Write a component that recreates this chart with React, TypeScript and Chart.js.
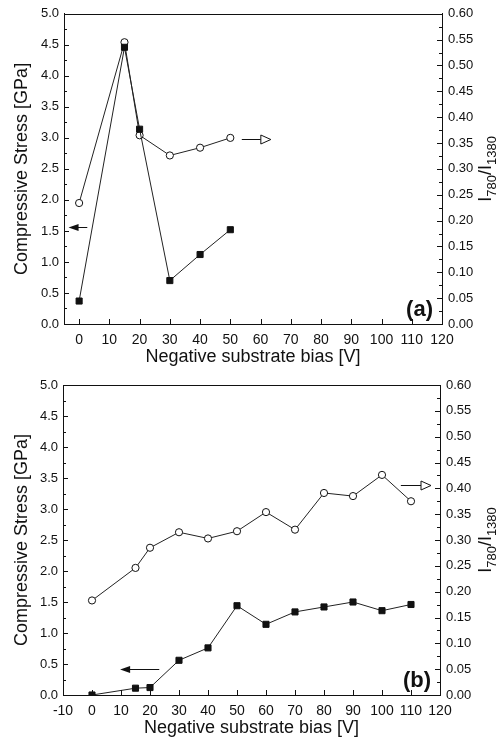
import React, { useEffect, useRef } from "react";
import { Chart, registerables } from "chart.js";

Chart.register(...registerables);

// ---------- data ----------
const biasA = [0, 15, 20, 30, 40, 50];
const stressA = [0.37, 4.46, 3.14, 0.7, 1.12, 1.52];
const ratioA = [0.234, 0.545, 0.365, 0.326, 0.341, 0.36];

const biasB = [0, 15, 20, 30, 40, 50, 60, 70, 80, 90, 100, 110];
const stressB = [0.0, 0.11, 0.12, 0.56, 0.76, 1.44, 1.14, 1.34, 1.42, 1.5, 1.36, 1.46];
const ratioB = [0.183, 0.246, 0.285, 0.315, 0.303, 0.317, 0.354, 0.32, 0.391, 0.385, 0.426, 0.375];

const xTicksA = [0, 10, 20, 30, 40, 50, 60, 70, 80, 90, 100, 110, 120];
const xTicksB = [-10, 0, 10, 20, 30, 40, 50, 60, 70, 80, 90, 100, 110, 120];
const stressTicks = [0, 0.5, 1, 1.5, 2, 2.5, 3, 3.5, 4, 4.5, 5];
const ratioTicks = [0, 0.05, 0.1, 0.15, 0.2, 0.25, 0.3, 0.35, 0.4, 0.45, 0.5, 0.55, 0.6];

const xLabel = "Negative substrate bias [V]";
const stressLabel = "Compressive Stress [GPa]";
const ratioLabelParts = [
  { text: "I", sub: false },
  { text: "780", sub: true },
  { text: "/I", sub: false },
  { text: "1380", sub: true },
];

// arrows: axis, start x, end x (head), value on that axis
const arrowsA = [
  { axis: "y", from: 2.7, to: -3.5, at: 1.56, head: "filled" },
  { axis: "y2", from: 53.8, to: 63.4, at: 0.358, head: "open" },
];
const arrowsB = [
  { axis: "y", from: 23.2, to: 9.7, at: 0.42, head: "filled" },
  { axis: "y2", from: 106.5, to: 116.9, at: 0.406, head: "open" },
];

const FONT = "'Liberation Sans Narrow', 'Liberation Sans', Arial, sans-serif";
const FONT_WIDE = "'Liberation Sans', Arial, sans-serif";
const INK = "#111";

type Panel = {
  key: string;
  x: number[];
  stress: number[];
  ratio: number[];
  xMin: number;
  xTicks: number[];
  arrows: typeof arrowsA;
  label: string;
  height: number;
  padTop: number;
  leftW: number;
  rightW: number;
};

const panels: Panel[] = [
  { key: "a", x: biasA, stress: stressA, ratio: ratioA, xMin: -5, xTicks: xTicksA, arrows: arrowsA, label: "(a)", height: 370, padTop: 12, leftW: 64, rightW: 60 },
  { key: "b", x: biasB, stress: stressB, ratio: ratioB, xMin: -10, xTicks: xTicksB, arrows: arrowsB, label: "(b)", height: 371, padTop: 15, leftW: 63, rightW: 62 },
];

function decorPlugin(p: Panel) {
  return {
    id: "decor_" + p.key,
    afterDraw(chart: any) {
      const { ctx, chartArea: ca, scales } = chart;
      ctx.save();
      ctx.strokeStyle = INK;
      ctx.lineWidth = 1;
      const line = (x1: number, y1: number, x2: number, y2: number) => {
        ctx.beginPath();
        ctx.moveTo(x1, y1);
        ctx.lineTo(x2, y2);
        ctx.stroke();
      };
      // top frame
      line(ca.left, Math.round(ca.top) + 0.5, ca.right, Math.round(ca.top) + 0.5);

      // left ticks
      const yPix = (s: any, v: number) => Math.round(s.getPixelForValue(v)) + 0.5;
      stressTicks.forEach((v, i) => {
        line(ca.left, yPix(scales.y, v), ca.left + 5, yPix(scales.y, v));
        if (i < stressTicks.length - 1) {
          const m = (v + stressTicks[i + 1]) / 2;
          line(ca.left, yPix(scales.y, m), ca.left + 3, yPix(scales.y, m));
        }
      });
      ratioTicks.forEach((v, i) => {
        line(ca.right, yPix(scales.y2, v), ca.right - 5, yPix(scales.y2, v));
        if (i < ratioTicks.length - 1) {
          const m = (v + ratioTicks[i + 1]) / 2;
          line(ca.right, yPix(scales.y2, m), ca.right - 3, yPix(scales.y2, m));
        }
      });
      p.xTicks.forEach((v) => {
        const x = Math.round(scales.x.getPixelForValue(v)) + 0.5;
        line(x, ca.bottom, x, ca.bottom - 5);
      });

      // arrows
      p.arrows.forEach((a) => {
        const ys = scales[a.axis];
        const y = Math.round(ys.getPixelForValue(a.at)) + 0.5;
        const x1 = scales.x.getPixelForValue(a.from);
        const x2 = scales.x.getPixelForValue(a.to);
        const dir = Math.sign(x2 - x1);
        if (a.head === "filled") {
          const L = 10, H = 3.5;
          line(x1, y, x2 - dir * L + dir, y);
          ctx.beginPath();
          ctx.moveTo(x2, y);
          ctx.lineTo(x2 - dir * L, y - H);
          ctx.lineTo(x2 - dir * L, y + H);
          ctx.closePath();
          ctx.fillStyle = INK;
          ctx.fill();
        } else {
          const L = 10, H = 4.5;
          line(x1, y, x2 - dir * L, y);
          ctx.beginPath();
          ctx.moveTo(x2, y);
          ctx.lineTo(x2 - dir * L, y - H);
          ctx.lineTo(x2 - dir * L, y + H);
          ctx.closePath();
          ctx.fillStyle = "#fff";
          ctx.fill();
          ctx.stroke();
        }
      });

      // panel label
      ctx.fillStyle = INK;
      ctx.font = "bold 22px " + FONT_WIDE;
      ctx.textAlign = "right";
      ctx.textBaseline = "alphabetic";
      ctx.fillText(p.label, ca.right - 9, ca.bottom - 8);

      // right axis title with subscripts, rotated
      ctx.translate(491, (ca.top + ca.bottom) / 2);
      ctx.rotate(-Math.PI / 2);
      const bigF = "18px " + FONT_WIDE;
      const smallF = "13px " + FONT_WIDE;
      let total = 0;
      const widths = ratioLabelParts.map((pt) => {
        ctx.font = pt.sub ? smallF : bigF;
        const w = ctx.measureText(pt.text).width;
        total += w;
        return w;
      });
      let cx = -total / 2;
      ctx.textAlign = "left";
      ratioLabelParts.forEach((pt, i) => {
        ctx.font = pt.sub ? smallF : bigF;
        ctx.fillText(pt.text, cx, pt.sub ? 5 : 0);
        cx += widths[i];
      });
      ctx.restore();
    },
  };
}

function makeConfig(p: Panel): any {
  return {
    type: "line",
    data: {
      datasets: [
        {
          label: "stress",
          data: p.x.map((x, i) => ({ x, y: p.stress[i] })),
          yAxisID: "y",
          borderColor: "#222",
          borderWidth: 1,
          pointStyle: "rect",
          pointRadius: 4.3,
          pointBackgroundColor: INK,
          pointBorderColor: INK,
          pointBorderWidth: 1,
          tension: 0,
          fill: false,
        },
        {
          label: "ratio",
          data: p.x.map((x, i) => ({ x, y: p.ratio[i] })),
          yAxisID: "y2",
          borderColor: "#222",
          borderWidth: 1,
          pointStyle: "circle",
          pointRadius: 3.6,
          pointBackgroundColor: "#fff",
          pointBorderColor: INK,
          pointBorderWidth: 1,
          tension: 0,
          fill: false,
        },
      ],
    },
    options: {
      animation: false,
      responsive: false,
      maintainAspectRatio: false,
      layout: { padding: { top: p.padTop, left: 0, right: 0, bottom: 0 } },
      plugins: { legend: { display: false }, tooltip: { enabled: false } },
      scales: {
        x: {
          type: "linear",
          min: p.xMin,
          max: 120,
          afterBuildTicks: (s: any) => {
            s.ticks = p.xTicks.map((v) => ({ value: v }));
          },
          afterFit: (s: any) => {
            s.height = 46;
          },
          grid: { display: false, drawTicks: false },
          border: { display: true, color: INK, width: 1 },
          ticks: {
            padding: 8,
            autoSkip: false,
            maxRotation: 0,
            color: INK,
            font: { family: FONT, size: 14 },
            callback: (v: number) => String(v),
          },
          title: {
            display: true,
            text: xLabel,
            color: INK,
            font: { family: FONT_WIDE, size: 18 },
            padding: { top: 0, bottom: 2 },
          },
        },
        y: {
          type: "linear",
          position: "left",
          min: 0,
          max: 5,
          afterBuildTicks: (s: any) => {
            s.ticks = stressTicks.map((v) => ({ value: v }));
          },
          afterFit: (s: any) => {
            s.width = p.leftW;
          },
          grid: { display: false, drawTicks: false },
          border: { display: true, color: INK, width: 1 },
          ticks: {
            padding: 5,
            color: INK,
            font: { family: FONT, size: 13 },
            callback: (v: number) => v.toFixed(1),
          },
          title: {
            display: true,
            text: stressLabel,
            color: INK,
            font: { family: FONT_WIDE, size: 18 },
            padding: { top: 11, bottom: 0 },
          },
        },
        y2: {
          type: "linear",
          position: "right",
          min: 0,
          max: 0.6,
          afterBuildTicks: (s: any) => {
            s.ticks = ratioTicks.map((v) => ({ value: v }));
          },
          afterFit: (s: any) => {
            s.width = p.rightW;
          },
          grid: { display: false, drawTicks: false },
          border: { display: true, color: INK, width: 1 },
          ticks: {
            padding: 6,
            color: INK,
            font: { family: FONT, size: 13 },
            callback: (v: number) => v.toFixed(2),
          },
        },
      },
    },
    plugins: [decorPlugin(p)],
  };
}

function PanelChart({ p }: { p: Panel }) {
  const ref = useRef<HTMLCanvasElement | null>(null);
  useEffect(() => {
    if (!ref.current) return;
    const chart = new Chart(ref.current, makeConfig(p));
    return () => chart.destroy();
  }, [p]);
  return (
    <canvas
      ref={ref}
      width={502}
      height={p.height}
      style={{ display: "block", width: 502, height: p.height }}
    />
  );
}

export default function App() {
  return (
    <div style={{ position: "absolute", left: 0, top: 0, width: 502, height: 741, background: "#fff" }}>
      {panels.map((p) => (
        <PanelChart key={p.key} p={p} />
      ))}
    </div>
  );
}
